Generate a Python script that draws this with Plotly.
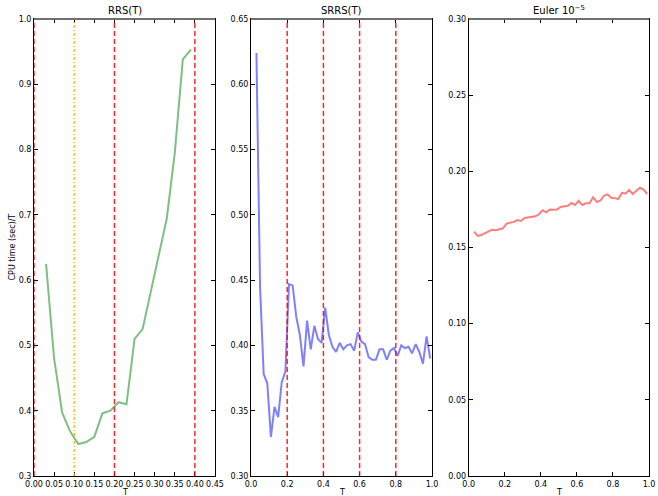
import plotly.graph_objects as go

# ---------------- data ----------------
rrs_T = [0.03, 0.05, 0.07, 0.09, 0.11, 0.13, 0.15, 0.17, 0.19, 0.21,
         0.23, 0.25, 0.27, 0.29, 0.31, 0.33, 0.35, 0.37, 0.39]
rrs_cpu = [0.625, 0.480, 0.397, 0.368, 0.349, 0.352, 0.360, 0.396, 0.400, 0.413,
           0.410, 0.510, 0.525, 0.580, 0.640, 0.694, 0.795, 0.938, 0.953]

grid_T = [0.03, 0.05, 0.07, 0.09, 0.11, 0.13, 0.15, 0.17, 0.19, 0.21,
          0.23, 0.25, 0.27, 0.29, 0.31, 0.33, 0.35, 0.37, 0.39, 0.41,
          0.43, 0.45, 0.47, 0.49, 0.51, 0.53, 0.55, 0.57, 0.59, 0.61,
          0.63, 0.65, 0.67, 0.69, 0.71, 0.73, 0.75, 0.77, 0.79, 0.81,
          0.83, 0.85, 0.87, 0.89, 0.91, 0.93, 0.95, 0.97, 0.99]
srrs_cpu = [0.624, 0.445, 0.378, 0.371, 0.330, 0.353, 0.345, 0.372, 0.380, 0.447,
            0.446, 0.422, 0.408, 0.384, 0.419, 0.397, 0.415, 0.405, 0.402, 0.429,
            0.408, 0.399, 0.395, 0.402, 0.397, 0.400, 0.401, 0.396, 0.410, 0.403,
            0.401, 0.391, 0.389, 0.389, 0.397, 0.397, 0.389, 0.396, 0.398, 0.392,
            0.400, 0.398, 0.399, 0.394, 0.401, 0.395, 0.386, 0.407, 0.390]
euler_cpu = [0.1604, 0.1576, 0.1582, 0.1593, 0.1604, 0.1617, 0.1613, 0.1617, 0.1626, 0.1657,
             0.1661, 0.1668, 0.1680, 0.1674, 0.1694, 0.1698, 0.1702, 0.1705, 0.1718, 0.1744,
             0.1731, 0.1750, 0.1748, 0.1750, 0.1766, 0.1770, 0.1774, 0.1792, 0.1779, 0.1807,
             0.1779, 0.1790, 0.1790, 0.1830, 0.1800, 0.1807, 0.1840, 0.1849, 0.1827, 0.1824,
             0.1818, 0.1860, 0.1853, 0.1877, 0.1851, 0.1873, 0.1892, 0.1880, 0.1850]

rrs_red_lines = [0.0, 0.2, 0.4]
rrs_orange_lines = [0.1]
srrs_red_lines = [0.2, 0.4, 0.6, 0.8]

titles = ["RRS(T)", "SRRS(T)", "Euler 10<sup>−5</sup>"]
ylabel = "CPU time (sec)/T"
xlabel = "T"

# ---------------- layout helpers ----------------
W, H = 658, 496
doms = [[34 / W, 215 / W], [251 / W, 432 / W], [468.7 / W, 649 / W]]
ydom = [20 / H, 477 / H]
FONT = "DejaVu Sans"

fig = go.Figure()
fig.add_trace(go.Scatter(x=rrs_T, y=rrs_cpu, mode="lines", xaxis="x", yaxis="y",
                         line=dict(color="rgba(0,128,0,0.5)", width=2), showlegend=False))
fig.add_trace(go.Scatter(x=grid_T, y=srrs_cpu, mode="lines", xaxis="x2", yaxis="y2",
                         line=dict(color="rgba(0,0,255,0.5)", width=2), showlegend=False))
fig.add_trace(go.Scatter(x=grid_T, y=euler_cpu, mode="lines", xaxis="x3", yaxis="y3",
                         line=dict(color="rgba(255,0,0,0.5)", width=2), showlegend=False))

common = dict(showline=True, linecolor="black", linewidth=1, mirror="ticks",
              ticks="inside", ticklen=4, tickcolor="black", showgrid=False,
              zeroline=False, automargin=False, tickangle=0,
              tickfont=dict(family=FONT, size=8, color="black"))

fig.update_layout(
    width=W, height=H, margin=dict(l=0, r=0, t=0, b=0, autoexpand=False),
    paper_bgcolor="white", plot_bgcolor="white",
    xaxis=dict(domain=doms[0], range=[0, 0.45], dtick=0.05, tick0=0, tickformat=".2f",
               anchor="y", **common),
    yaxis=dict(domain=ydom, range=[0.3, 1.0], dtick=0.1, tick0=0.3, tickformat=".1f",
               anchor="x", **common),
    xaxis2=dict(domain=doms[1], range=[0, 1.0], dtick=0.2, tick0=0, tickformat=".1f",
                anchor="y2", **common),
    yaxis2=dict(domain=ydom, range=[0.3, 0.65], dtick=0.05, tick0=0.3, tickformat=".2f",
                anchor="x2", **common),
    xaxis3=dict(domain=doms[2], range=[0, 1.0], dtick=0.2, tick0=0, tickformat=".1f",
                anchor="y3", **common),
    yaxis3=dict(domain=ydom, range=[0, 0.30], dtick=0.05, tick0=0, tickformat=".2f",
                anchor="x3", **common),
)

red_line = dict(color="rgba(255,0,0,0.85)", width=1.5, dash="5px,3px")
for v in rrs_red_lines:
    fig.add_shape(type="line", xref="x", yref="y domain", x0=v, x1=v, y0=0, y1=1, line=red_line)
for v in rrs_orange_lines:
    fig.add_shape(type="line", xref="x", yref="y domain", x0=v, x1=v, y0=0, y1=1,
                  line=dict(color="orange", width=1.2, dash="3px,2px,1px,2px"))
for v in srrs_red_lines:
    fig.add_shape(type="line", xref="x2", yref="y2 domain", x0=v, x1=v, y0=0, y1=1, line=red_line)

# top spine drawn slightly heavier/grey like the reference
for xr, yr in [("x", "y"), ("x2", "y2"), ("x3", "y3")]:
    fig.add_shape(type="line", xref=f"{xr} domain", yref=f"{yr} domain",
                  x0=0, x1=1, y0=1, y1=1, line=dict(color="#707070", width=2))

for i, t in enumerate(titles):
    cx = (doms[i][0] + doms[i][1]) / 2
    fig.add_annotation(text=t, xref="paper", yref="paper", x=cx, y=ydom[1],
                       xanchor="center", yanchor="bottom", yshift=1, showarrow=False,
                       font=dict(family=FONT, size=10, color="black"))
    fig.add_annotation(text=xlabel, xref="paper", yref="paper", x=cx, y=4 / H,
                       xanchor="center", yanchor="middle", showarrow=False,
                       font=dict(family=FONT, size=8, color="black"))

fig.add_annotation(text=ylabel, xref="paper", yref="paper", x=12 / W,
                   y=(ydom[0] + ydom[1]) / 2, textangle=-90, showarrow=False,
                   xanchor="center", yanchor="middle",
                   font=dict(family=FONT, size=8, color="black"))

fig.write_html("out.html")
